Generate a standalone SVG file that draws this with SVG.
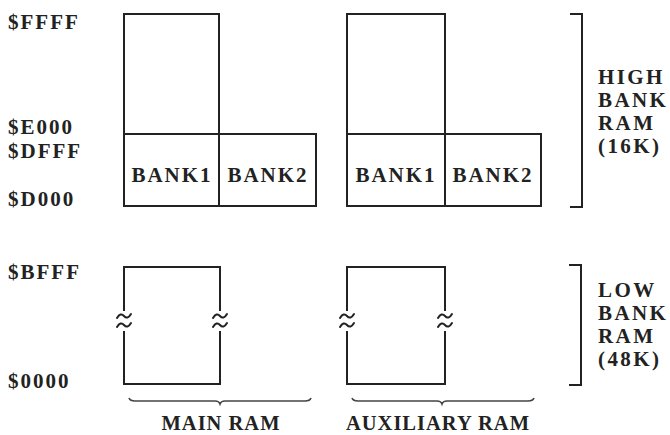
<svg xmlns="http://www.w3.org/2000/svg" width="670" height="435" viewBox="0 0 670 435">
  <style>
    .box { fill: none; stroke: #222; stroke-width: 2; }
    .ln { fill: none; stroke: #222; stroke-width: 2; stroke-linecap: round; }
    .brace { fill: none; stroke: #444; stroke-width: 1.6; }
    text { font-family: "Liberation Serif", "Times New Roman", serif; font-weight: bold; font-size: 21px; fill: #222; letter-spacing: 2px; }
    .mid { text-anchor: middle; }
    .side { letter-spacing: 2.4px; }
    .foot { letter-spacing: 1px; font-size: 20.5px; }
  </style>
  <rect width="670" height="435" fill="#fff"/>

  <!-- address labels -->
  <g id="addresses">
    <text x="8" y="29">$FFFF</text>
    <text x="8" y="134">$E000</text>
    <text x="8" y="158">$DFFF</text>
    <text x="8" y="206">$D000</text>
    <text x="8" y="279">$BFFF</text>
    <text x="8" y="388">$0000</text>
  </g>

  <!-- main RAM, high bank -->
  <g id="main-high">
    <rect class="box" x="124" y="14" width="95" height="192"/>
    <rect class="box" x="124" y="134" width="192" height="72"/>
    <line class="box" x1="219" y1="134" x2="219" y2="206"/>
    <text class="mid" x="172" y="182">BANK1</text>
    <text class="mid" x="268" y="182">BANK2</text>
  </g>

  <!-- auxiliary RAM, high bank -->
  <g id="aux-high">
    <rect class="box" x="347" y="14" width="98" height="192"/>
    <rect class="box" x="347" y="134" width="194" height="72"/>
    <line class="box" x1="445" y1="134" x2="445" y2="206"/>
    <text class="mid" x="396" y="182">BANK1</text>
    <text class="mid" x="493" y="182">BANK2</text>
  </g>

  <!-- main RAM, low bank (broken sides) -->
  <g id="main-low">
    <path class="box" d="M124,311 V267 H220 V311"/>
    <path class="box" d="M124,331 V384 H220 V331"/>
    <path class="ln" d="M117,318 q3.5,-6 7,-2 t7,-2"/>
    <path class="ln" d="M117,327 q3.5,-6 7,-2 t7,-2"/>
    <path class="ln" d="M213,318 q3.5,-6 7,-2 t7,-2"/>
    <path class="ln" d="M213,327 q3.5,-6 7,-2 t7,-2"/>
  </g>

  <!-- auxiliary RAM, low bank (broken sides) -->
  <g id="aux-low">
    <path class="box" d="M347,311 V267 H445 V311"/>
    <path class="box" d="M347,331 V384 H445 V331"/>
    <path class="ln" d="M340,318 q3.5,-6 7,-2 t7,-2"/>
    <path class="ln" d="M340,327 q3.5,-6 7,-2 t7,-2"/>
    <path class="ln" d="M438,318 q3.5,-6 7,-2 t7,-2"/>
    <path class="ln" d="M438,327 q3.5,-6 7,-2 t7,-2"/>
  </g>

  <!-- brackets and braces -->
  <g id="connectors">
    <path class="box" d="M570,14 H582 V207 H570"/>
    <path class="box" d="M569,265 H581 V385 H569"/>
    <path class="brace" d="M129,398 q1,3 6,3 H215 q4,0 5,3 q1,-3 5,-3 H305 q5,0 6,-3"/>
    <path class="brace" d="M352,398 q1,3 6,3 H437 q4,0 5,3 q1,-3 5,-3 H528 q5,0 6,-3"/>
  </g>

  <g id="high-label">
    <text class="side" x="598" y="84">HIGH</text>
    <text class="side" x="598" y="107">BANK</text>
    <text class="side" x="598" y="130">RAM</text>
    <text class="side" x="598" y="153">(16K)</text>
  </g>

  <g id="low-label">
    <text class="side" x="598" y="297">LOW</text>
    <text class="side" x="598" y="320">BANK</text>
    <text class="side" x="598" y="343">RAM</text>
    <text class="side" x="598" y="366">(48K)</text>
  </g>

  <g id="bottom-labels">
    <text class="mid foot" x="221" y="430">MAIN RAM</text>
    <text class="mid foot" x="438" y="430">AUXILIARY RAM</text>
  </g>
</svg>
